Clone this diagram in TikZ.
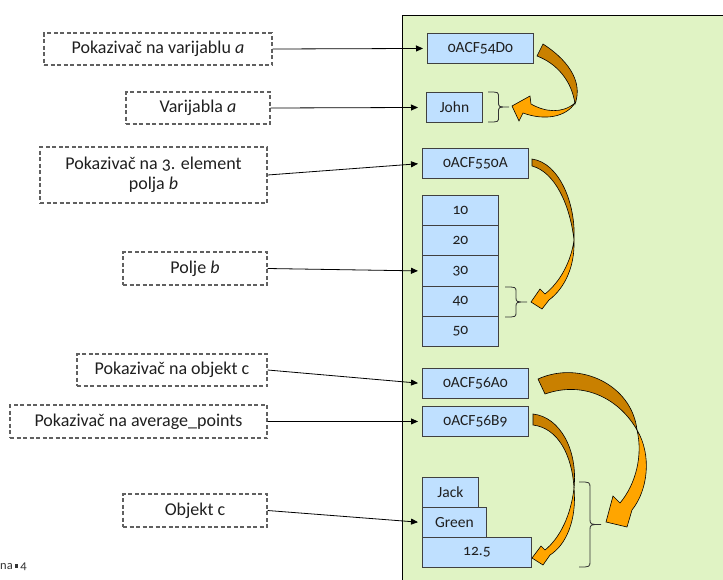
\documentclass[tikz,border=0pt]{standalone}
\usepackage{fontspec}
\setmainfont{Carlito}[Numbers=OldStyle]
\usetikzlibrary{arrows.meta}
\definecolor{panel}{HTML}{E0F3C4}
\definecolor{cell}{HTML}{BFE0FF}
\definecolor{dkor}{HTML}{C98000}
\definecolor{ltor}{HTML}{FFA500}
\definecolor{lblline}{HTML}{606060}
\newcommand\RBrace[5]{%
 \draw[brc] (#1,#2) .. controls ({#1+#4},#2) .. ({#1+#4},{#2+#5})
   -- ({#1+#4},{(#2+#3)/2-#5}) .. controls ({#1+#4},{(#2+#3)/2}) .. ({#1+2*#4},{(#2+#3)/2})
   .. controls ({#1+#4},{(#2+#3)/2}) .. ({#1+#4},{(#2+#3)/2+#5})
   -- ({#1+#4},{#3-#5}) .. controls ({#1+#4},#3) .. (#1,#3);}
\begin{document}
\begin{tikzpicture}[x=1pt,y=-1pt,
 lbl/.style={draw=lblline,dash pattern=on 4pt off 2.5pt,line width=1.3pt,font=\fontsize{18}{20}\selectfont,inner sep=0pt,align=center,text=black!88},
 cellbox/.style={draw=black!75,fill=cell,line width=0.9pt,inner sep=0pt,font=\fontsize{15.5}{17}\selectfont,anchor=north west,text=black!88},
 conn/.style={-{Triangle[length=7pt,width=6pt]},line width=0.8pt,shorten >=4pt},
 fatdk/.style={fill=dkor,draw=black,line width=0.6pt},
 fatlt/.style={fill=ltor,draw=black,line width=0.6pt},
 brc/.style={draw=black!80,line width=0.8pt}]
\useasboundingbox (0,0) rectangle (723,579);
\clip (0,0) rectangle (723,579);
% panel
\filldraw[fill=panel,draw=black,line width=0.9pt] (402,15) rectangle (740,600);
% memory cells
\node[cellbox,minimum width=106pt,minimum height=30pt] (p1) at (427,33) {0ACF54D0};
\node[cellbox,minimum width=56pt,minimum height=30pt] (john) at (426,92) {John};
\node[cellbox,minimum width=106pt,minimum height=30pt] (p2) at (422,148) {0ACF550A};
\node[cellbox,minimum width=76pt,minimum height=30.2pt] (a1) at (422,195) {10};
\node[cellbox,minimum width=76pt,minimum height=30.2pt] (a2) at (422,225.2) {20};
\node[cellbox,minimum width=76pt,minimum height=30.2pt] (a3) at (422,255.4) {30};
\node[cellbox,minimum width=76pt,minimum height=30.2pt] (a4) at (422,285.6) {40};
\node[cellbox,minimum width=76pt,minimum height=30.2pt] (a5) at (422,315.8) {50};
\node[cellbox,minimum width=106pt,minimum height=30pt] (p3) at (422,368) {0ACF56A0};
\node[cellbox,minimum width=106pt,minimum height=30pt] (p4) at (422,406) {0ACF56B9};
\node[cellbox,minimum width=56pt,minimum height=30pt] (jack) at (422,477) {Jack};
\node[cellbox,minimum width=64pt,minimum height=30pt] (green) at (422,507) {Green};
\node[cellbox,minimum width=109pt,minimum height=30pt] (val) at (422,537) {12.5};
% labels
\node[lbl,minimum width=228pt,minimum height=32pt] (l1) at (158,49) {Pokazivač na varijablu \textit{a}};
\node[lbl,minimum width=144pt,minimum height=32pt] (l2) at (198,108) {Varijabla \textit{a}};
\node[lbl,minimum width=227pt,minimum height=56pt] (l3) at (153.5,175) {Pokazivač na 3. element\\polja \textit{b}};
\node[lbl,minimum width=144pt,minimum height=33pt] (l4) at (195,268.5) {Polje \textit{b}};
\node[lbl,minimum width=190pt,minimum height=32pt] (l5) at (172,370) {Pokazivač na objekt c};
\node[lbl,minimum width=257pt,minimum height=33pt] (l6) at (138.5,421.5) {Pokazivač na average\_points};
\node[lbl,minimum width=144pt,minimum height=33pt] (l7) at (195,510.5) {Objekt c};
% connectors
\draw[conn] (l1.east) -- (p1.west);
\draw[conn,shorten >=8pt] (l2.east) -- (john.west);
\draw[conn] (l3.east) -- (p2.west);
\draw[conn] (l4.east) -- (a3.west);
\draw[conn] (l5.east) -- (p3.west);
\draw[conn] (l6.east) -- (p4.west);
\draw[conn] (l7.east) -- (green.west);
% braces
\RBrace{488}{92}{122}{10.5}{5}
\RBrace{505}{287}{317}{11}{5}
\RBrace{579}{482}{567}{11}{6}
% fat arrows
\path[fatdk] (543,44) .. controls (565,58) and (584,80) .. (575,104) .. controls (572,82) and (558,64) .. (537,56) -- cycle;
\path[fatlt] (575,103) .. controls (562,114) and (545,112) .. (531,104) -- (530,96) -- (512,106) -- (519,121) -- (523,113) .. controls (545,121) and (566,117) .. (575,103) -- cycle;
\path[fatdk] (532,159) .. controls (560,163) and (576,205) .. (574,240) .. controls (570,205) and (555,172) .. (532,166) -- cycle;
\path[fatlt] (574,240) .. controls (575,266) and (565,288) .. (549,300) -- (542,309) -- (531,302) -- (540,289) -- (545,294) .. controls (560,282) and (571,262) .. (574,240) -- cycle;
\path[fatdk] (538,379) .. controls (580,360) and (632,385) .. (637,430) .. controls (620,400) and (585,380) .. (545,394) -- cycle;
\path[fatlt] (637,430) .. controls (652,455) and (648,490) .. (632,510) -- (627,527) -- (606,522) -- (613,496) -- (620,503) .. controls (636,484) and (643,455) .. (637,430) -- cycle;
\path[fatdk] (533,414) .. controls (560,417) and (578,450) .. (574,488) .. controls (572,455) and (558,428) .. (533,425) -- cycle;
\path[fatlt] (574,488) .. controls (577,520) and (566,545) .. (550,555) -- (543,565) -- (532,558) -- (541,546) -- (545,550) .. controls (560,538) and (571,515) .. (574,488) -- cycle;
% page number fragment
\node[anchor=base west,inner sep=0pt,font=\fontsize{12.5}{14}\selectfont,text=black!80] (pg) at (0,569) {na\,\raisebox{0.12em}{\rule{0.28em}{0.28em}}\,4};
\end{tikzpicture}
\end{document}
